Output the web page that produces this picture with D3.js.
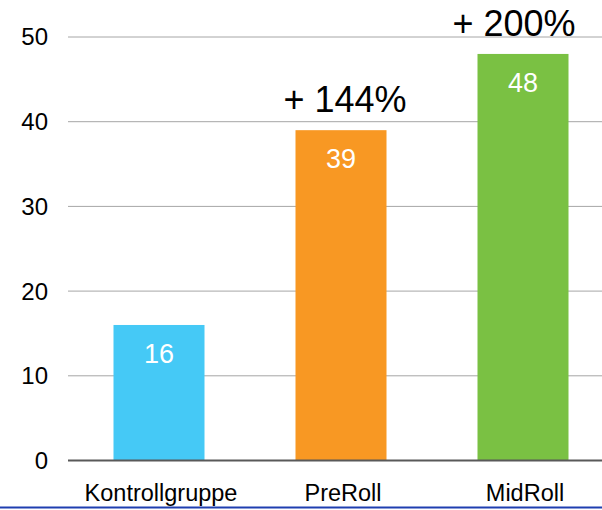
<!DOCTYPE html>
<html>
<head>
<meta charset="utf-8">
<script src="https://cdn.jsdelivr.net/npm/d3@7"></script>
<style>
  body { margin: 0; background: #fff; }
  text { font-family: "Liberation Sans", Arial, sans-serif; }
</style>
</head>
<body>
<script>
const categories = ["Kontrollgruppe", "PreRoll", "MidRoll"]
const values = [16, 39, 48]
const barColors = ["#45C9F6", "#F89823", "#7AC143"]
const uplifts = [null, "+ 144%", "+ 200%"]
const yTicks = [0, 10, 20, 30, 40, 50]

window.onload = function () {

    const width = 602, height = 510
    const plot = {left: 68, right: 614, top: 37, bottom: 460.5}

    const svg = d3.select('body')
        .append('svg')
        .attr('width', width)
        .attr('height', height)

    const x = d3.scaleBand()
        .domain(categories)
        .range([plot.left, plot.right])
        .paddingInner(0.5)
        .paddingOuter(0.25)

    const y = d3.scaleLinear()
        .domain([0, 50])
        .range([plot.bottom, plot.top])

    // gridlines
    svg.append('g')
        .selectAll('line')
        .data(yTicks.filter(d => d > 0))
        .join('line')
        .attr('x1', plot.left)
        .attr('x2', width)
        .attr('y1', d => y(d))
        .attr('y2', d => y(d))
        .attr('stroke', '#a6a6a6')
        .attr('stroke-width', 1)

    // y tick labels
    svg.append('g')
        .selectAll('text')
        .data(yTicks)
        .join('text')
        .attr('x', 48)
        .attr('y', d => y(d))
        .attr('dy', '0.35em')
        .attr('text-anchor', 'end')
        .style('font-size', '24px')
        .attr('fill', '#000')
        .text(d => d)

    const data = categories.map((c, i) => ({cat: c, value: values[i], color: barColors[i], uplift: uplifts[i]}))

    // bars
    svg.append('g')
        .selectAll('rect')
        .data(data)
        .join('rect')
        .attr('x', d => x(d.cat))
        .attr('y', d => y(d.value))
        .attr('width', x.bandwidth())
        .attr('height', d => y(0) - y(d.value))
        .attr('fill', d => d.color)

    // value labels inside bars
    svg.append('g')
        .selectAll('text')
        .data(data)
        .join('text')
        .attr('x', d => x(d.cat) + x.bandwidth() / 2)
        .attr('y', d => y(d.value) + 38)
        .attr('text-anchor', 'middle')
        .style('font-size', '27px')
        .attr('fill', '#fff')
        .text(d => d.value)

    // uplift annotations
    const upliftShift = {"PreRoll": 4, "MidRoll": -9}
    svg.append('g')
        .selectAll('text')
        .data(data.filter(d => d.uplift))
        .join('text')
        .attr('x', d => x(d.cat) + x.bandwidth() / 2 + upliftShift[d.cat])
        .attr('y', d => y(d.value) - 18)
        .attr('text-anchor', 'middle')
        .style('font-size', '36px')
        .attr('fill', '#000')
        .text(d => d.uplift)

    // zero axis line
    svg.append('line')
        .attr('x1', plot.left)
        .attr('x2', width)
        .attr('y1', y(0))
        .attr('y2', y(0))
        .attr('stroke', '#595959')
        .attr('stroke-width', 2)

    // category labels
    svg.append('g')
        .selectAll('text')
        .data(categories)
        .join('text')
        .attr('x', d => x(d) + x.bandwidth() / 2 + 2)
        .attr('y', 501)
        .attr('text-anchor', 'middle')
        .style('font-size', '23.5px')
        .attr('fill', '#000')
        .text(d => d)

    // bottom blue rule
    svg.append('line')
        .attr('x1', 0)
        .attr('x2', width)
        .attr('y1', 507.5)
        .attr('y2', 507.5)
        .attr('stroke', '#1f3fb0')
        .attr('stroke-width', 2)
}
</script>
</body>
</html>
